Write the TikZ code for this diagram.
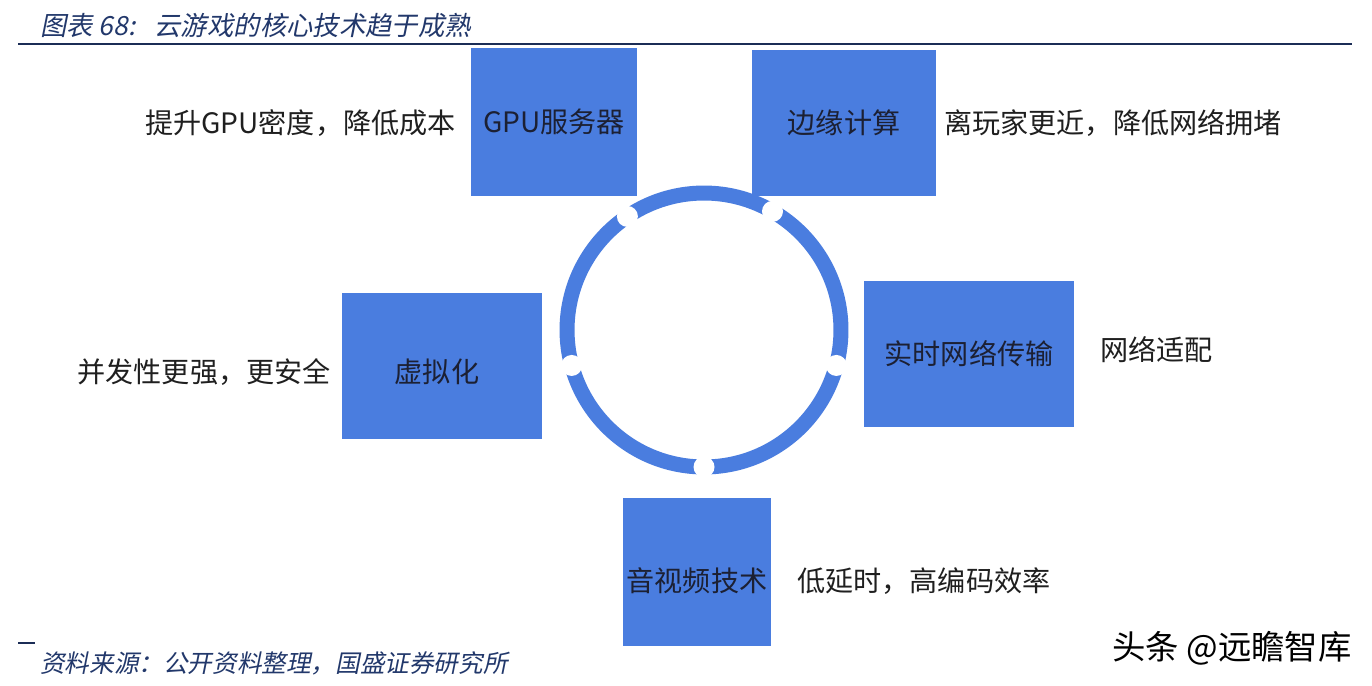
\documentclass[tikz,border=0pt]{standalone}
\usepackage{fontspec}
\usepackage{xcolor}
\usepackage{tikz}
\newfontfamily\cjk{Noto Sans CJK SC}
\newfontfamily\cjkit{Noto Sans CJK SC}[FakeSlant=0.2]
\definecolor{boxblue}{HTML}{4A7DDF}
\definecolor{titleblue}{HTML}{22386B}
\definecolor{ink}{HTML}{1C2033}

\begin{document}
\begin{tikzpicture}[x=0.02cm, y=-0.02cm,
  box/.style={fill=boxblue, inner sep=0pt, text=ink, font=\cjk\fontsize{16}{18}\selectfont},
  lab/.style={inner sep=0pt, text=black!88, font=\cjk\fontsize{16}{18}\selectfont},
  gap/.style={circle, fill=white, inner sep=0pt, minimum size=0.42cm}]
\fill[white] (0,0) rectangle (1372,686);
\useasboundingbox (0,0) rectangle (1372,686);
% title and footer
\node[anchor=west, inner sep=0pt, text=titleblue, font=\cjkit\fontsize{15}{17}\selectfont] (title) at (40,26) {图表 68:\enspace\ 云游戏的核心技术趋于成熟};
\draw[titleblue!80!black, line width=0.04cm] (18,44) -- (1352,44);
\draw[titleblue!80!black, line width=0.04cm] (18,643) -- (35,643);
\node[anchor=west, inner sep=0pt, text=titleblue, font=\cjkit\fontsize{14}{16}\selectfont] (src) at (40,663) {资料来源：公开资料整理，国盛证券研究所};
\node[anchor=east, inner sep=0pt, font=\cjk\fontsize{19}{21}\selectfont] (mark) at (1352,648) {头条 @远瞻智库};
% ring with five gaps
\coordinate (ring) at (704,330);
\draw[boxblue, line width=0.3cm] (ring) circle[radius=2.74cm];
\foreach \a [count=\k] in {15,90,165,236,300}
  \node[gap] (gap\k) at ([shift={(\a:137)}]ring) {};
% technology boxes
\node[box, minimum width=3.32cm, minimum height=2.96cm] (gpu) at (554,122) {GPU服务器};
\node[box, minimum width=3.68cm, minimum height=2.94cm] (edge) at (844,123) {边缘计算};
\node[box, minimum width=4.02cm, minimum height=2.94cm] (virt) at (442,366) {\raisebox{-0.33cm}[0pt][0pt]{虚拟化\hspace{0.2cm}}};
\node[box, minimum width=4.22cm, minimum height=2.94cm] (net) at (969,354) {实时网络传输};
\node[box, minimum width=2.96cm, minimum height=2.96cm] (av) at (697,572) {\raisebox{-0.39cm}[0pt][0pt]{音视频技术}};
% notes beside the boxes
\node[lab, anchor=east] (gpunote) at (456,123) {提升GPU密度，降低成本};
\node[lab, anchor=west] (edgenote) at (944,123) {离玩家更近，降低网络拥堵};
\node[lab, anchor=east] (virtnote) at (331,372) {并发性更强，更安全};
\node[lab, anchor=west] (netnote) at (1100,350) {网络适配};
\node[lab, anchor=west] (avnote) at (797,581) {低延时，高编码效率};
\end{tikzpicture}
\end{document}
